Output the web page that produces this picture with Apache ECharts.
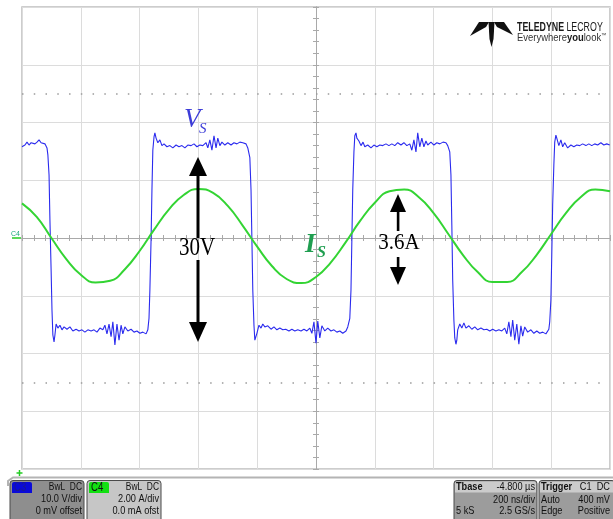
<!DOCTYPE html>
<html>
<head>
<meta charset="utf-8">
<script src="https://cdn.jsdelivr.net/npm/echarts@6/dist/echarts.min.js"></script>
<style>
html,body{margin:0;padding:0;background:#fff;}
#chart{width:613px;height:519px;}
</style>
</head>
<body>
<div id="chart"></div>
<script>
// ---- Data (time in ns relative to screen centre; 200 ns/div) ----
const blueTimeNs = [
 -1000,-990,-983,-976,-969,-963,-956,-949,-942,-935,-929,-922,-915,
 -912,-908,-905,-901,-898,-895,-891,-888,-884,
 -878,-871,-864,-857,-847,-837,-827,-816,-806,-796,-786,-776,-765,-755,-745,-735,-725,-718,-711,-704,-697,-691,-684,-677,-670,-663,-657,-650,-640,-629,-619,-609,-599,-589,-578,-572,
 -568,-565,-561,-558,-555,-551,-548,-544,
 -538,-531,-524,-517,-507,-497,-487,-476,-466,-456,-446,-436,-425,-415,-405,-395,-385,-374,-368,-361,-354,-347,-340,-334,-327,-320,-310,-300,-289,-279,-269,-259,-249,-238,
 -232,-225,-221,-218,-215,-211,-208,-204,-201,
 -194,-187,-181,-174,-164,-153,-143,-133,-123,-113,-103,-92,-82,-72,-62,-51,-41,-31,-21,-14,-7,0,6,13,20,30,40,51,61,71,81,91,102,108,
 115,119,122,125,129,132,136,139,
 146,153,160,166,176,187,197,207,217,227,238,248,258,268,278,289,299,309,319,326,333,340,346,353,360,367,374,380,391,401,411,421,432,442,
 448,455,459,462,465,469,472,476,479,482,
 489,496,503,510,520,530,540,550,561,571,581,591,601,612,622,632,642,649,656,663,669,676,683,690,697,703,710,720,731,741,751,761,771,782,792,
 795,799,802,805,809,812,816,819,
 826,833,839,846,856,867,877,887,897,907,918,928,938,948,958,969,979,989,999
];
const blueVolts = [
 15.8,16.1,16.6,16.1,16.5,16.8,16.3,16.6,17.0,16.5,16.6,16.3,15.6,
 14.4,10.9,3.1,-5.5,-12.5,-16.8,-18.0,-16.8,-14.9,
 -15.6,-15.1,-15.9,-15.4,-15.8,-15.4,-16.1,-15.8,-16.1,-15.9,-16.3,-15.9,-16.1,-15.9,-16.3,-15.6,-15.9,-15.1,-16.6,-14.9,-17.1,-14.5,-18.5,-14.9,-17.7,-15.1,-16.6,-15.4,-16.1,-15.8,-16.3,-16.1,-16.5,-16.3,-16.6,-15.9,
 -13.9,-9.0,-0.3,8.3,15.2,17.5,18.2,17.3,
 16.5,17.0,16.0,16.3,15.8,16.0,15.6,16.1,15.8,16.0,15.6,16.1,16.0,16.3,15.8,16.1,16.0,16.5,15.6,17.0,15.2,17.7,15.6,17.3,16.0,16.6,16.1,16.5,16.1,16.5,16.3,16.6,16.5,16.3,
 15.6,13.9,8.3,-0.3,-9.0,-15.1,-17.7,-18.0,-16.5,
 -15.1,-15.6,-14.9,-15.4,-15.2,-15.8,-15.4,-15.9,-15.6,-15.9,-15.8,-16.1,-15.8,-16.1,-15.9,-16.1,-15.8,-16.1,-15.6,-16.5,-14.5,-18.2,-14.4,-17.3,-15.2,-16.1,-15.6,-16.1,-15.9,-16.3,-16.1,-16.5,-16.1,-15.4,
 -13.9,-9.0,-0.3,8.3,14.9,17.7,18.2,17.3,
 16.8,16.0,16.6,15.8,16.1,15.6,16.1,15.8,16.1,16.0,16.3,16.0,16.3,16.0,16.5,16.1,16.5,16.0,16.3,15.2,17.0,14.9,18.2,15.8,17.3,15.8,16.8,16.1,16.6,16.1,16.5,16.3,16.6,16.5,
 16.0,14.9,10.9,2.3,-7.3,-14.2,-17.3,-18.4,-17.7,-15.9,
 -14.9,-15.6,-14.7,-15.6,-15.2,-15.8,-15.4,-15.9,-15.6,-15.9,-15.8,-16.1,-15.8,-16.1,-15.9,-16.1,-15.6,-16.6,-14.5,-17.1,-14.2,-17.7,-14.9,-18.4,-15.2,-17.0,-15.4,-16.3,-15.9,-16.5,-16.1,-16.5,-16.3,-16.6,-15.8,
 -14.5,-10.7,-2.9,5.7,12.6,16.6,17.8,17.3,
 16.0,17.0,15.8,16.5,15.6,16.1,15.8,16.1,16.0,16.3,16.0,16.3,16.0,16.3,16.1,16.5,16.1,16.3,16.1
];
const greenTimeNs = [
 -1000,-950,-900,-850,-800,-750,-700,-650,-600,-550,-500,-450,-400,-350,-300,-250,-200,-150,-100,-50,
 0,50,100,150,200,250,300,350,400,450,500,550,600,650,700,750,800,850,900,950,1000
];
const greenAmps = [
 1.20,0.73,0.00,-0.72,-1.27,-1.54,-1.48,-1.08,-0.45,0.30,
 0.99,1.49,1.70,1.56,1.11,0.44,-0.30,-0.97,-1.42,-1.56,
 -1.35,-0.85,-0.16,0.59,1.22,1.62,1.68,1.41,0.86,0.14,
 -0.59,-1.18,-1.52,-1.52,-1.18,-0.59,0.14,0.86,1.41,1.68,1.62
];
const dottedLevelsV = [25, -25];

const blueData = blueTimeNs.map((t, i) => [t, blueVolts[i]]);
const greenData = greenTimeNs.map((t, i) => [t, greenAmps[i]]);

const chart = echarts.init(document.getElementById('chart'), null, {renderer: 'canvas'});
const gridGray = '#dcdcdc';
const axisGray = '#a9a9a9';
const sbFont = '"Liberation Sans Narrow","Liberation Sans",Arial,sans-serif';
const serif = '"Liberation Serif","Times New Roman",serif';
const NARROW = 0.8;

function xAx(inside, split) {
  return {
    type: 'value', min: -1000, max: 1000, interval: 200, position: 'bottom',
    axisLabel: {show: false},
    axisLine: {show: true, onZero: true, onZeroAxisIndex: 0, lineStyle: {color: axisGray, width: 1}},
    axisTick: {show: true, inside: inside, length: 3, lineStyle: {color: axisGray}},
    minorTick: {show: true, splitNumber: 5, length: 3, lineStyle: {color: axisGray}},
    splitLine: {show: split, lineStyle: {color: gridGray, width: 1}}
  };
}
function yAx(inside, split) {
  return {
    type: 'value', min: -40, max: 40, interval: 10, position: 'left',
    axisLabel: {show: false},
    axisLine: {show: true, onZero: true, onZeroAxisIndex: 0, lineStyle: {color: axisGray, width: 1}},
    axisTick: {show: true, inside: inside, length: 3, lineStyle: {color: axisGray}},
    minorTick: {show: true, splitNumber: 5, length: 3, lineStyle: {color: axisGray}},
    splitLine: {show: split, lineStyle: {color: gridGray, width: 1}}
  };
}

function statusBox(x, w, bodyFill, headFill) {
  const els = [{
    type: 'rect', z: 50,
    shape: {x: x, y: 480.5, width: w, height: 45, r: [3, 3, 0, 0]},
    style: {fill: bodyFill, stroke: '#4a4a4a', lineWidth: 1}
  }];
  if (headFill) {
    els.push({type: 'rect', z: 51, shape: {x: x + 1, y: 481.5, width: w - 2, height: 11, r: [2, 2, 0, 0]}, style: {fill: headFill}});
  }
  return els;
}
function sbText(txt, x, y, align, bold, size) {
  return {type: 'text', z: 60, x: x, y: y, scaleX: NARROW,
    style: {text: txt, fill: '#111', fontSize: size || 11.5, fontFamily: sbFont, fontWeight: bold ? 'bold' : 'normal', align: align, verticalAlign: 'middle'}};
}

const elements = [
  // separator above status bar
  {type: 'polyline', z: 40, shape: {points: [[8, 486], [8, 481], [13, 477.5], [613, 477.5]]}, style: {stroke: '#b4b4b4', lineWidth: 2, fill: null}},
  // trigger marker
  {type: 'line', z: 40, shape: {x1: 16.5, y1: 473, x2: 22.5, y2: 473}, style: {stroke: '#22cc22', lineWidth: 1.5}},
  {type: 'line', z: 40, shape: {x1: 19.5, y1: 470, x2: 19.5, y2: 476}, style: {stroke: '#22cc22', lineWidth: 1.5}},
  // C4 offset marker
  {type: 'line', z: 40, shape: {x1: 12, y1: 238, x2: 21, y2: 238}, style: {stroke: '#22cc22', lineWidth: 1.5}},
  {type: 'text', z: 40, x: 11, y: 234, style: {text: 'C4', fill: '#1aa87a', fontSize: 7, fontFamily: sbFont, align: 'left', verticalAlign: 'middle'}},

  // Logo
  {type: 'polygon', z: 40, shape: {points: [[479, 22], [489, 22], [486, 27], [470, 36]]}, style: {fill: '#111'}},
  {type: 'polygon', z: 40, shape: {points: [[494, 22], [504, 22], [513, 35], [497, 27]]}, style: {fill: '#111'}},
  {type: 'polygon', z: 40, shape: {points: [[488.5, 22], [494.5, 22], [493.5, 39], [491.5, 47], [489.5, 39]]}, style: {fill: '#111'}},
  {type: 'text', z: 40, x: 517, y: 27, scaleX: 0.68, style: {text: '{b|TELEDYNE} {r|LECROY}', align: 'left', verticalAlign: 'middle',
    rich: {b: {fontSize: 13, fontWeight: 'bold', fontFamily: sbFont, fill: '#1a1a1a'}, r: {fontSize: 13, fontFamily: sbFont, fill: '#1a1a1a'}}}},
  {type: 'text', z: 40, x: 517, y: 38, scaleX: 0.86, style: {text: '{r|Everywhere}{b|you}{r|look}{t|™}', align: 'left', verticalAlign: 'middle',
    rich: {b: {fontSize: 11, fontWeight: 'bold', fontFamily: sbFont, fill: '#1a1a1a'}, r: {fontSize: 11, fontFamily: sbFont, fill: '#333'}, t: {fontSize: 6, fontFamily: sbFont, fill: '#333', verticalAlign: 'top'}}}},

  // Annotations: V_S
  {type: 'text', z: 100, x: 184, y: 120, style: {text: 'V', fill: '#3d3dd8', fontSize: 27, fontStyle: 'italic', fontFamily: serif, align: 'left', verticalAlign: 'middle'}},
  {type: 'text', z: 100, x: 199, y: 129, style: {text: 'S', fill: '#3d3dd8', fontSize: 15, fontStyle: 'italic', fontFamily: serif, align: 'left', verticalAlign: 'middle'}},
  // I_S
  {type: 'text', z: 100, x: 305, y: 245, style: {text: 'I', fill: '#1f9e50', fontSize: 27, fontStyle: 'italic', fontWeight: 'bold', fontFamily: serif, align: 'left', verticalAlign: 'middle'}},
  {type: 'text', z: 100, x: 317, y: 253, style: {text: 'S', fill: '#1f9e50', fontSize: 16, fontStyle: 'italic', fontWeight: 'bold', fontFamily: serif, align: 'left', verticalAlign: 'middle'}},

  // 30V arrow
  {type: 'polygon', z: 100, shape: {points: [[198, 157], [189, 176], [207, 176]]}, style: {fill: '#000'}},
  {type: 'rect', z: 100, shape: {x: 196.5, y: 175, width: 3, height: 63}, style: {fill: '#000'}},
  {type: 'rect', z: 100, shape: {x: 196.5, y: 260, width: 3, height: 63}, style: {fill: '#000'}},
  {type: 'polygon', z: 100, shape: {points: [[189, 322], [207, 322], [198, 342]]}, style: {fill: '#000'}},
  {type: 'text', z: 100, x: 197, y: 249, scaleY: 1.15, style: {text: '30V', fill: '#000', fontSize: 21, fontFamily: serif, align: 'center', verticalAlign: 'middle'}},
  // 3.6A arrow
  {type: 'polygon', z: 100, shape: {points: [[398, 194], [390, 212], [406, 212]]}, style: {fill: '#000'}},
  {type: 'rect', z: 100, shape: {x: 396.8, y: 211, width: 2.6, height: 20}, style: {fill: '#000'}},
  {type: 'rect', z: 100, shape: {x: 396.8, y: 257, width: 2.6, height: 11}, style: {fill: '#000'}},
  {type: 'polygon', z: 100, shape: {points: [[390, 267], [406, 267], [398, 285]]}, style: {fill: '#000'}},
  {type: 'text', z: 100, x: 399, y: 243, scaleY: 1.1, style: {text: '3.6A', fill: '#000', fontSize: 21, fontFamily: serif, align: 'center', verticalAlign: 'middle'}}
];

// Status boxes
[].push.apply(elements, statusBox(10, 74, '#8e8e8e', null));
elements.push({type: 'rect', z: 55, shape: {x: 12, y: 482, width: 20, height: 11, r: [2, 2, 0, 0]}, style: {fill: '#0a0ad8'}});
elements.push({type: 'text', z: 60, x: 14, y: 487.5, scaleX: NARROW, style: {text: 'C3', fill: '#1a1a90', fontSize: 12, fontFamily: sbFont, align: 'left', verticalAlign: 'middle'}});
elements.push(sbText('BwL  DC', 82, 487, 'right', false, 10.5));
elements.push(sbText('10.0 V/div', 82, 499, 'right'));
elements.push(sbText('0 mV offset', 82, 511, 'right'));

[].push.apply(elements, statusBox(87, 74, '#c6c6c6', null));
elements.push({type: 'rect', z: 55, shape: {x: 89, y: 482, width: 20, height: 11, r: [2, 2, 0, 0]}, style: {fill: '#11e011'}});
elements.push({type: 'text', z: 60, x: 91, y: 487.5, scaleX: NARROW, style: {text: 'C4', fill: '#111', fontSize: 12, fontFamily: sbFont, align: 'left', verticalAlign: 'middle'}});
elements.push(sbText('BwL  DC', 159, 487, 'right', false, 10.5));
elements.push(sbText('2.00 A/div', 159, 499, 'right'));
elements.push(sbText('0.0 mA ofst', 159, 511, 'right'));

[].push.apply(elements, statusBox(454, 83, '#9c9c9c', '#cbcbcb'));
elements.push(sbText('Tbase', 456, 487, 'left', true));
elements.push(sbText('-4.800 µs', 535, 487, 'right'));
elements.push(sbText('200 ns/div', 535, 500, 'right'));
elements.push(sbText('5 kS', 456, 511, 'left'));
elements.push(sbText('2.5 GS/s', 535, 511, 'right'));

[].push.apply(elements, statusBox(539, 76, '#9c9c9c', '#cbcbcb'));
elements.push(sbText('Trigger', 541, 487, 'left', true));
elements.push(sbText('C1  DC', 610, 487, 'right'));
elements.push(sbText('Auto', 541, 500, 'left'));
elements.push(sbText('400 mV', 610, 500, 'right'));
elements.push(sbText('Edge', 541, 511, 'left'));
elements.push(sbText('Positive', 610, 511, 'right'));

const option = {
  animation: false,
  backgroundColor: '#ffffff',
  grid: {left: 22, top: 7, width: 588, height: 462, show: true, borderColor: '#bdbdbd', borderWidth: 1.5, backgroundColor: 'transparent'},
  xAxis: [xAx(true, true), xAx(false, false)],
  yAxis: [yAx(true, true), yAx(false, false), {type: 'value', min: -8, max: 8, show: false, splitLine: {show: false}}],
  series: [
    {
      name: 'C3 (V)', type: 'line', xAxisIndex: 0, yAxisIndex: 0,
      data: blueData, symbol: 'none', showSymbol: false, z: 3,
      lineStyle: {color: '#2a2aee', width: 1.1},
      markLine: {
        silent: true, symbol: ['none', 'none'], label: {show: false}, animation: false,
        lineStyle: {color: '#9a9a9a', width: 1.5, type: [1.5, 10.26]},
        data: dottedLevelsV.map(v => ({yAxis: v}))
      }
    },
    {
      name: 'C4 (A)', type: 'line', xAxisIndex: 0, yAxisIndex: 2,
      data: greenData, symbol: 'none', showSymbol: false, smooth: true, z: 4,
      lineStyle: {color: '#33d433', width: 2}
    }
  ],
  graphic: {elements: elements}
};
chart.setOption(option);
</script>
</body>
</html>
